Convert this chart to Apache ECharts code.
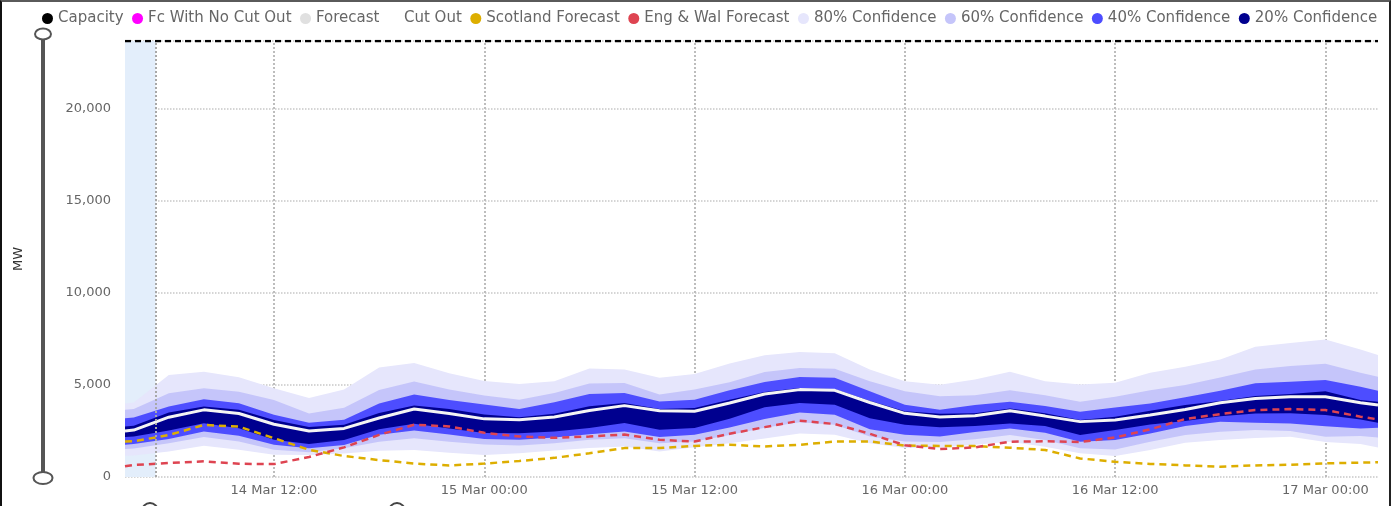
<!DOCTYPE html>
<html><head><meta charset="utf-8">
<script src="https://cdn.jsdelivr.net/npm/echarts@6/dist/echarts.min.js"></script>
<style>
html,body{margin:0;padding:0;background:#fff;}
#c{position:absolute;left:0;top:0;width:1391px;height:506px;}
#frame{position:absolute;left:0;top:0;width:1391px;height:506px;box-sizing:border-box;border-top:2px solid #5a5a5a;border-left:2px solid #111;border-right:2px solid #222;pointer-events:none;}
</style></head><body>
<div id="c"></div><div id="frame"></div>
<script>
const times = ['2024-03-14 03:30','2024-03-14 04:00','2024-03-14 06:00','2024-03-14 08:00','2024-03-14 10:00','2024-03-14 12:00','2024-03-14 14:00','2024-03-14 16:00','2024-03-14 18:00','2024-03-14 20:00','2024-03-14 22:00','2024-03-15 00:00','2024-03-15 02:00','2024-03-15 04:00','2024-03-15 06:00','2024-03-15 08:00','2024-03-15 10:00','2024-03-15 12:00','2024-03-15 14:00','2024-03-15 16:00','2024-03-15 18:00','2024-03-15 20:00','2024-03-15 22:00','2024-03-16 00:00','2024-03-16 02:00','2024-03-16 04:00','2024-03-16 06:00','2024-03-16 08:00','2024-03-16 10:00','2024-03-16 12:00','2024-03-16 14:00','2024-03-16 16:00','2024-03-16 18:00','2024-03-16 20:00','2024-03-16 22:00','2024-03-17 00:00','2024-03-17 02:00','2024-03-17 03:00'];

const conf80High = [4000,4050,5540,5720,5420,4820,4300,4760,5950,6190,5640,5220,5060,5200,5900,5840,5390,5600,6170,6620,6790,6720,5840,5200,5020,5300,5720,5210,5030,5120,5670,5990,6390,7080,7290,7480,6930,6630];
const conf60High = [3650,3700,4550,4820,4640,4190,3450,3760,4730,5190,4760,4430,4200,4570,5080,5110,4480,4750,5150,5710,5930,5880,5200,4660,4390,4450,4720,4440,4090,4360,4720,5000,5410,5850,6030,6150,5670,5450];
const conf40High = [3200,3230,3830,4220,4010,3380,2950,3110,3990,4490,4180,3940,3700,4060,4510,4570,4110,4200,4710,5170,5440,5390,4660,3930,3660,3910,4090,3860,3550,3780,4000,4330,4690,5090,5180,5270,4900,4690];
const conf20High = [2750,2780,3500,3830,3650,3100,2720,2840,3480,3880,3700,3400,3250,3440,3840,4020,3700,3750,4200,4620,4840,4790,4150,3570,3440,3460,3730,3460,3100,3280,3600,3910,4130,4400,4510,4660,4180,4090];
const forecast   = [2500,2550,3250,3650,3450,2870,2500,2640,3210,3700,3450,3160,3110,3260,3620,3880,3600,3570,4020,4510,4750,4710,4050,3460,3260,3330,3600,3310,3010,3100,3370,3670,4040,4270,4360,4360,4040,3910];
const conf20Low  = [2170,2200,2530,2920,2650,2020,1800,2010,2600,2900,2640,2390,2380,2480,2660,2930,2570,2660,3170,3790,4020,3930,3200,2840,2710,2770,2910,2770,2280,2550,2850,3050,3300,3450,3460,3370,3130,2950];
const conf40Low  = [1750,1790,2060,2470,2240,1750,1560,1740,2290,2530,2310,2070,2020,2150,2330,2480,2170,2290,2690,3150,3510,3390,2600,2290,2200,2450,2640,2410,1920,2010,2370,2770,3000,2950,2910,2760,2640,2680];
const conf60Low  = [1520,1550,1840,2170,1930,1480,1350,1560,1920,2110,1920,1760,1710,1840,2020,2110,1840,1930,2280,2680,2970,2840,2200,1930,1900,2050,2280,2010,1560,1500,1920,2280,2460,2550,2500,2190,2230,2150];
const conf80Low  = [1150,1170,1390,1700,1480,1210,1200,1280,1430,1470,1320,1200,1290,1440,1570,1660,1380,1620,1840,2090,2370,2290,1840,1570,1600,1750,1920,1650,1290,1140,1470,1860,2010,2120,2190,1900,1790,1610];
const engWalForecast   = [580,650,760,850,720,700,1090,1610,2290,2840,2750,2400,2200,2130,2200,2310,2020,1930,2350,2710,3060,2880,2350,1730,1520,1610,1920,1940,1900,2150,2590,3150,3420,3640,3690,3640,3280,3130];
const scotlandForecast = [1930,1940,2280,2830,2740,2110,1480,1140,920,730,630,730,870,1040,1290,1570,1570,1690,1750,1660,1750,1930,1930,1710,1690,1680,1590,1470,1010,830,710,630,560,630,670,740,780,800];
const capacityTimes  = ['2024-03-14 03:30','2024-03-17 03:00'];
const capacityValues = [23700, 23700];
const nowTime = '2024-03-14 05:15';
const xTickTimes = ['2024-03-14 12:00','2024-03-15 00:00','2024-03-15 12:00','2024-03-16 00:00','2024-03-16 12:00','2024-03-17 00:00'];
const yTicks = [0, 5000, 10000, 15000, 20000];
const legendNames = ['Capacity','Fc With No Cut Out','Forecast','Cut Out','Scotland Forecast','Eng & Wal Forecast','80% Confidence','60% Confidence','40% Confidence','20% Confidence'];

const FONT = 'DejaVu Sans';
const pairs = arr => arr.map((v, i) => [times[i], v]);
const diffs = (hi, lo) => hi.map((v, i) => [times[i], v - lo[i]]);
const xTickValues = xTickTimes.map(s => echarts.time.parse(s).getTime());

const bands = [
  {name:'80% Confidence', hi:conf80High, lo:conf80Low, color:'#E6E6FC'},
  {name:'60% Confidence', hi:conf60High, lo:conf60Low, color:'#C5C5FA'},
  {name:'40% Confidence', hi:conf40High, lo:conf40Low, color:'#4D4DFF'},
  {name:'20% Confidence', hi:conf20High, lo:conf20Low, color:'#00008F'}
];

const series = [];
bands.forEach((b, k) => {
  const base = {
    name: b.name + ' base', type:'line', stack:'band'+k, data: pairs(b.lo),
    symbol:'none', lineStyle:{opacity:0, width:0}, silent:true
  };
  if (k === 0) {
    base.markLine = {
      silent:true, z:1, symbol:['none','none'], label:{show:false},
      lineStyle:{type:'dotted', color:'#bdbdbd', width:2},
      data: xTickTimes.map(t => ({xAxis: t}))
    };
  }
  series.push(base);
  series.push({
    name: b.name, type:'line', stack:'band'+k, data: diffs(b.hi, b.lo),
    symbol:'none', lineStyle:{opacity:0, width:0}, color:b.color,
    itemStyle:{color:b.color}, areaStyle:{color:b.color, opacity:1}, silent:true
  });
});
series.push({
  name:'Forecast', type:'line', data: pairs(forecast), symbol:'none',
  color:'#e0e0e0', itemStyle:{color:'#e0e0e0'},
  lineStyle:{color:'#f4f4f4', width:3},
  markArea:{silent:true, z:1, itemStyle:{color:'#E3EEFB'}, data:[[{xAxis: times[0]}, {xAxis: nowTime}]]},
  markLine:{silent:true, symbol:['none','none'], label:{show:false},
    lineStyle:{type:'dotted', color:'#a8a8a8', width:2}, data:[{xAxis: nowTime}]}
});
series.push({
  name:'Scotland Forecast', type:'line', data: pairs(scotlandForecast), symbol:'none',
  color:'#DDAE00', itemStyle:{color:'#DDAE00'},
  lineStyle:{color:'#DDAE00', width:2.5, type:[7,5]}
});
series.push({
  name:'Eng & Wal Forecast', type:'line', data: pairs(engWalForecast), symbol:'none',
  color:'#DE4451', itemStyle:{color:'#DE4451'},
  lineStyle:{color:'#DE4451', width:2.5, type:[7,5]}
});
series.push({
  name:'Capacity', type:'line', data: capacityValues.map((v,i)=>[capacityTimes[i], v]), symbol:'none',
  color:'#000', itemStyle:{color:'#000'},
  lineStyle:{color:'#000', width:2.5, type:[6,4]}
});
series.push({name:'Fc With No Cut Out', type:'line', data:[], color:'#FF00FF', itemStyle:{color:'#FF00FF'}});
series.push({name:'Cut Out', type:'line', data:[], color:'rgba(0,0,0,0)', itemStyle:{color:'rgba(0,0,0,0)'}});

const chart = echarts.init(document.getElementById('c'), null, {renderer:'canvas'});
chart.setOption({
  animation:false,
  backgroundColor:'#fff',
  grid:{left:125, right:13, top:41, bottom:29},
  legend:{
    left:37, top:6, icon:'circle', itemWidth:11, itemHeight:11, itemGap:8.5,
    textStyle:{color:'#666', fontSize:15, fontFamily:FONT},
    data: legendNames
  },
  xAxis:{
    type:'time', min: times[0], max: times[times.length-1],
    axisLine:{show:false},
    axisTick:{show:false},
    axisLabel:{
      color:'#666', fontSize:13, fontFamily:FONT, margin:7,
      showMinLabel:false, showMaxLabel:false,
      formatter: v => xTickValues.includes(v) ? echarts.time.format(v, '{d} {MMM} {HH}:{mm}', false) : ''
    },
    splitLine:{show:false}
  },
  yAxis:{
    type:'value', min:0, max: Math.max(...capacityValues), interval:5000,
    name:'MW', nameLocation:'middle', nameGap:100, nameRotate:90,
    nameTextStyle:{color:'#333', fontSize:13, fontFamily:FONT},
    axisLine:{show:false}, axisTick:{show:false},
    axisLabel:{
      color:'#666', fontSize:13, fontFamily:FONT, margin:14,
      formatter: v => yTicks.includes(v) ? v.toLocaleString('en-US') : ''
    },
    splitLine:{show:true, lineStyle:{type:'dotted', color:'#c8c8c8', width:1.5}}
  },
  graphic:[
    {type:'line', shape:{x1:43, y1:38, x2:43, y2:474}, style:{stroke:'#555', lineWidth:4}, z:10},
    {type:'ellipse', shape:{cx:43, cy:34, rx:8, ry:5.5}, style:{fill:'#fff', stroke:'#555', lineWidth:2}, z:11},
    {type:'ellipse', shape:{cx:43, cy:478, rx:9.5, ry:6}, style:{fill:'#fff', stroke:'#555', lineWidth:2}, z:11},
    {type:'ellipse', shape:{cx:150, cy:511, rx:8, ry:8}, style:{fill:'#fff', stroke:'#444', lineWidth:2}, z:11},
    {type:'ellipse', shape:{cx:397, cy:511, rx:8, ry:8}, style:{fill:'#fff', stroke:'#444', lineWidth:2}, z:11}
  ],
  series: series
});
</script>
</body></html>
